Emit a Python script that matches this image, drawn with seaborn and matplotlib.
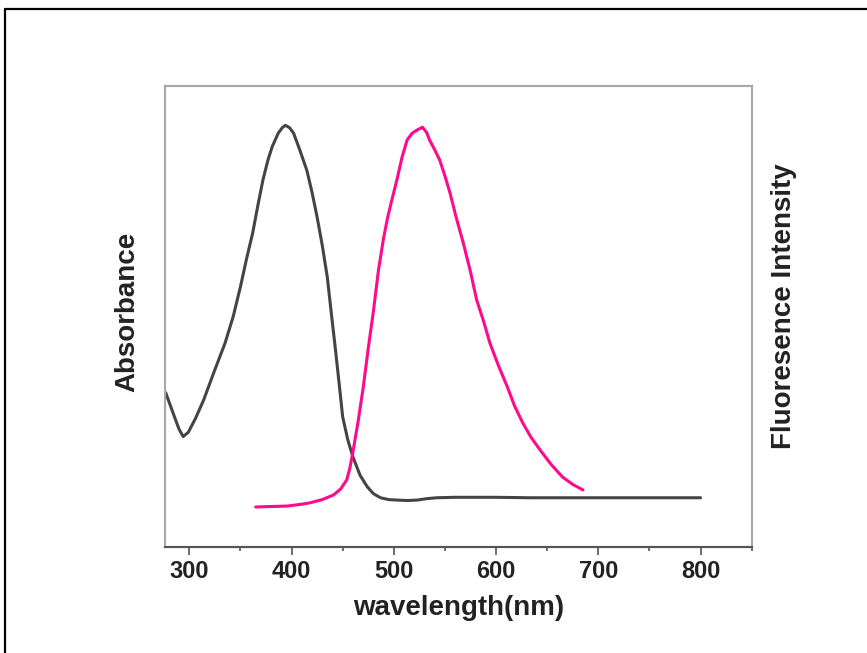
import pandas as pd
import seaborn as sns
import matplotlib.pyplot as plt
from matplotlib.lines import Line2D
from matplotlib.ticker import MultipleLocator

# absorbance spectrum (arbitrary units)
abs_wl = [277, 285, 290, 294, 299, 306, 314, 324, 335, 343, 350, 356, 362,
          367, 372, 377, 381, 387, 391, 394, 398, 402, 408, 415, 420, 425,
          430, 435, 439, 443, 447, 450, 455, 460, 467, 474, 480, 487, 495,
          503, 513, 523, 532, 542, 560, 600, 633, 700, 800]
abs_val = [0.334, 0.285, 0.255, 0.239, 0.248, 0.278, 0.318, 0.378, 0.442,
           0.500, 0.564, 0.625, 0.681, 0.740, 0.796, 0.840, 0.868, 0.898,
           0.910, 0.915, 0.910, 0.898, 0.862, 0.817, 0.770, 0.716, 0.655,
           0.585, 0.505, 0.427, 0.345, 0.282, 0.232, 0.195, 0.155, 0.130,
           0.115, 0.106, 0.102, 0.101, 0.100, 0.101, 0.104, 0.106, 0.107,
           0.107, 0.106, 0.106, 0.106]

# fluorescence emission spectrum
fl_wl = [365, 380, 396, 410, 418, 430, 441, 448, 454, 457, 460, 465, 470,
         475, 480, 485, 490, 494, 498, 503, 508, 513, 518, 523, 528, 532,
         535, 540, 545, 550, 555, 561, 568, 575, 581, 588, 594, 602, 611,
         618, 626, 634, 643, 654, 665, 675, 685]
fl_val = [0.086, 0.087, 0.088, 0.092, 0.095, 0.102, 0.112, 0.125, 0.145,
          0.170, 0.205, 0.270, 0.344, 0.430, 0.510, 0.600, 0.670, 0.715,
          0.752, 0.796, 0.845, 0.883, 0.898, 0.905, 0.911, 0.900, 0.883,
          0.862, 0.839, 0.805, 0.768, 0.715, 0.659, 0.597, 0.536, 0.488,
          0.442, 0.395, 0.347, 0.306, 0.269, 0.238, 0.210, 0.178, 0.151,
          0.135, 0.123]

df_abs = pd.DataFrame({"wavelength": abs_wl, "value": abs_val})
df_fl = pd.DataFrame({"wavelength": fl_wl, "value": fl_val})

sns.set_style("white")
plt.rcParams['font.family'] = ['Liberation Sans', 'DejaVu Sans']

fig = plt.figure(figsize=(8.67, 6.53), dpi=100)
ax = fig.add_axes([0.19, 0.163, 0.677, 0.705])
ax2 = ax.twinx()

sns.lineplot(data=df_abs, x="wavelength", y="value", ax=ax,
             color="#444444", linewidth=2.2, sort=False)
sns.lineplot(data=df_fl, x="wavelength", y="value", ax=ax2,
             color="#ff0a8c", linewidth=2.2, sort=False)

for a in (ax, ax2):
    a.set_xlim(276, 850)
    a.set_ylim(0, 1)
    a.set_yticks([])
    for side in ("left", "right", "top"):
        a.spines[side].set_color("#a8a8a8")
        a.spines[side].set_linewidth(1.5)
    a.spines["bottom"].set_color("#555555")
    a.spines["bottom"].set_linewidth(1.5)

ax.xaxis.set_major_locator(MultipleLocator(100))
ax.xaxis.set_minor_locator(MultipleLocator(50))
ax.tick_params(axis="x", which="major", direction="out", length=6, width=1.2,
               color="#555555", labelsize=17, pad=4, bottom=True)
ax.tick_params(axis="x", which="minor", direction="out", length=3, width=1.2,
               color="#555555", bottom=True)
for lbl in ax.get_xticklabels():
    lbl.set_fontweight("bold")
    lbl.set_color("#222222")

ax.set_xlabel("wavelength(nm)", fontsize=20, fontweight="bold",
              color="#222222", labelpad=8)
ax.set_ylabel("Absorbance", fontsize=20, fontweight="bold",
              color="#222222")
ax.yaxis.set_label_coords(-0.042, 0.51)
ax2.set_ylabel("Fluoresence Intensity", fontsize=20, fontweight="bold",
               color="#222222")
ax2.yaxis.set_label_coords(1.033, 0.523)

# outer frame (left and top edges of the pasted figure)
fig.add_artist(Line2D([0.006, 0.006], [0, 0.986], transform=fig.transFigure,
                      color="black", linewidth=1.6))
fig.add_artist(Line2D([0.006, 1.0], [0.986, 0.986], transform=fig.transFigure,
                      color="black", linewidth=1.6))

fig.savefig("out.png", dpi=100)
